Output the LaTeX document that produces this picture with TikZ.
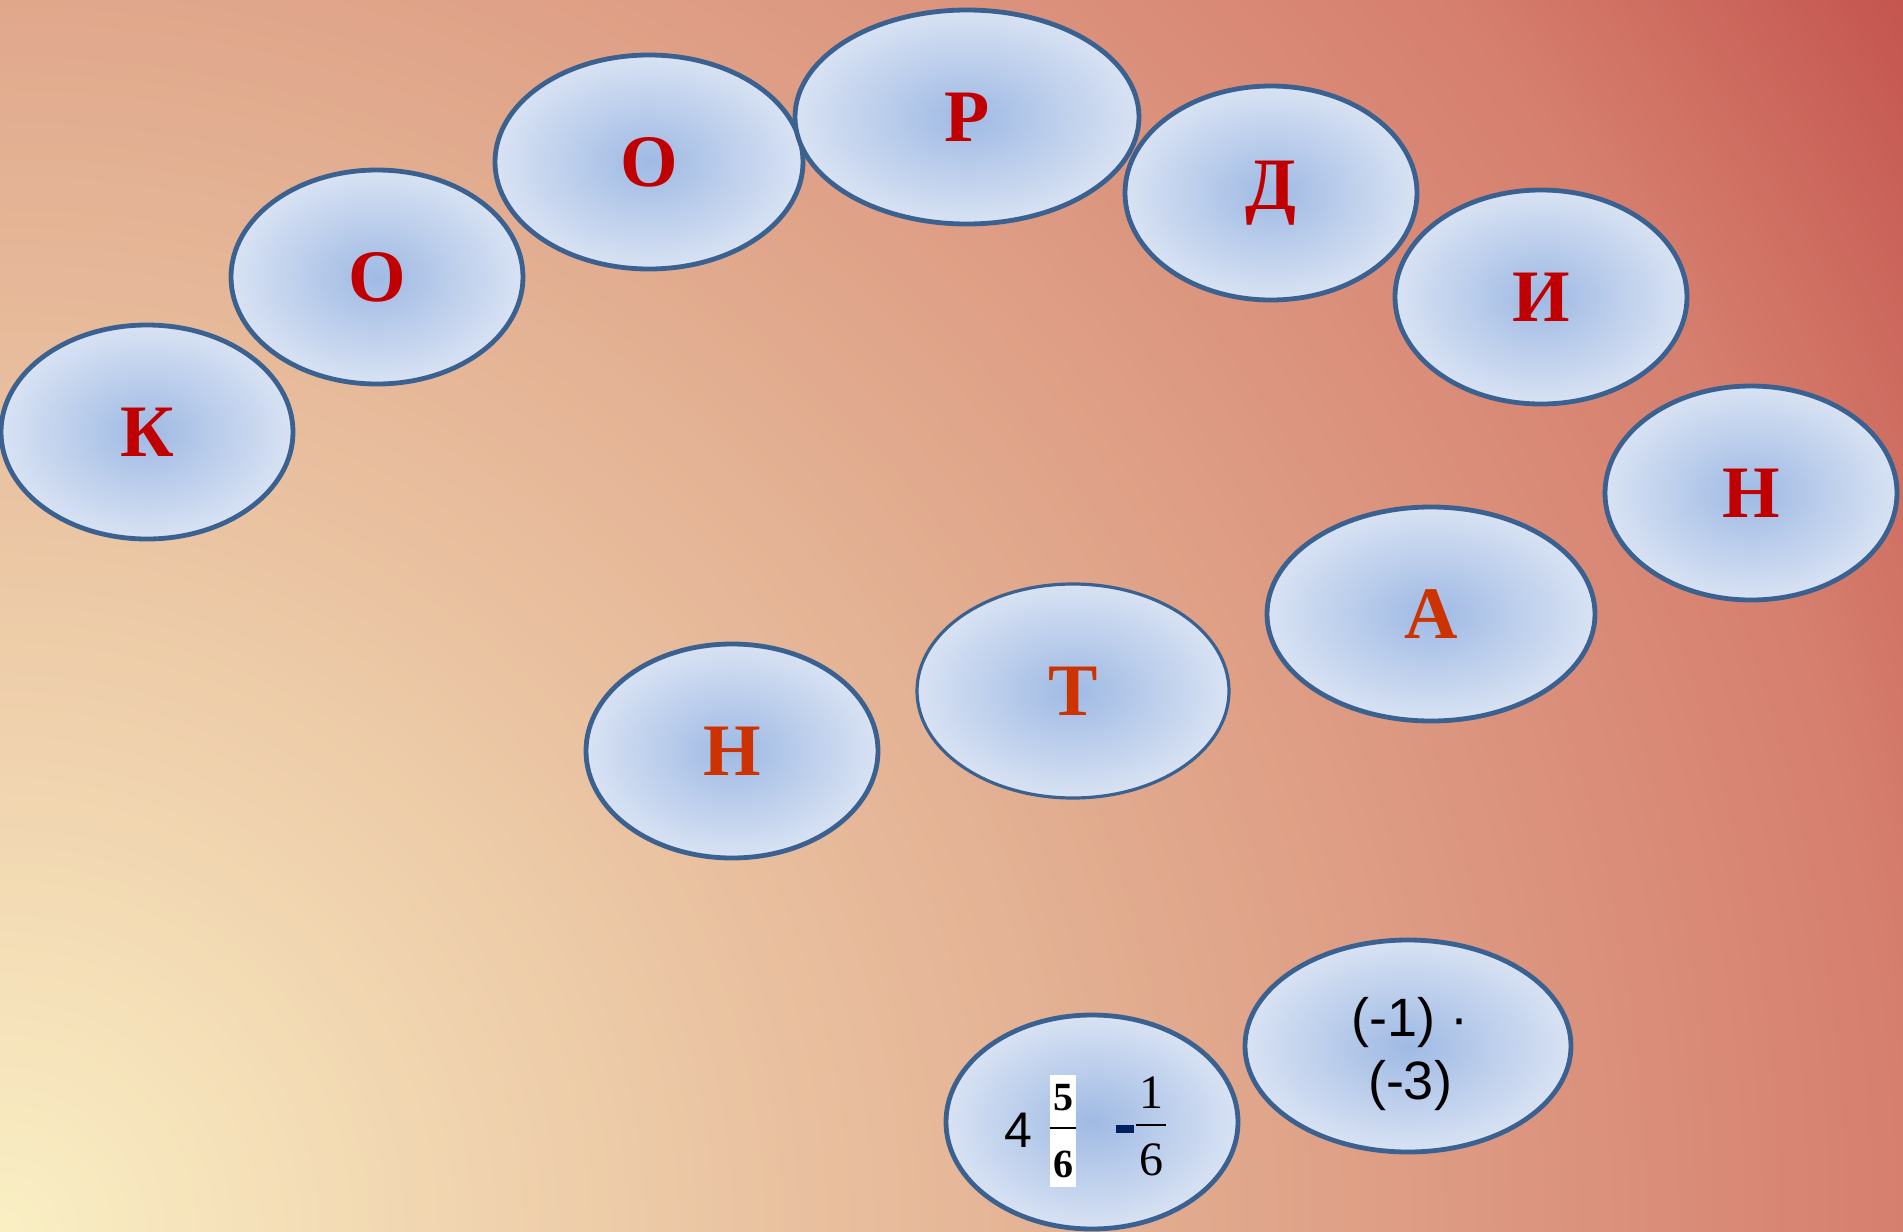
\documentclass[tikz,border=0pt]{standalone}
\usepackage{fontspec}
\setmainfont{Liberation Serif}
\newfontfamily\sansfont{Liberation Sans}
\usetikzlibrary{positioning, shapes.geometric}

\definecolor{bgcream}{HTML}{FAEFC4}
\definecolor{bgpeach}{HTML}{E2AD90}
\definecolor{bgrose}{HTML}{D67F6E}
\definecolor{bgred}{HTML}{C4554F}
\definecolor{ovalin}{HTML}{9FBAE4}
\definecolor{ovalout}{HTML}{D8E2F3}
\definecolor{ovalline}{HTML}{3B6190}
\definecolor{letterred}{HTML}{C00000}
\definecolor{letterorange}{HTML}{CC3300}
\definecolor{minusnavy}{HTML}{002060}

\pgfdeclareradialshading{bgglow}{\pgfpoint{0bp}{0bp}}{color(0bp)=(bgcream); color(12.5bp)=(bgpeach); color(21bp)=(bgrose); color(25bp)=(bgred); color(50bp)=(bgred)}

\tikzset{
  oval/.style={ellipse, draw=ovalline, line width=2.4pt, inner color=ovalin, outer color=ovalout, minimum height=107pt, inner sep=0pt},
  redletter/.style={text=letterred, font=\fontsize{37pt}{40pt}\selectfont\bfseries},
  orangeletter/.style={text=letterorange, font=\fontsize{37pt}{40pt}\selectfont\bfseries},
  numtxt/.style={font=\sansfont\fontsize{25pt}{30pt}\selectfont, inner sep=0pt, anchor=base},
  fracbold/.style={font=\fontsize{20pt}{24pt}\selectfont\bfseries, inner sep=0pt, anchor=base},
  fracreg/.style={font=\fontsize{24pt}{28pt}\selectfont, inner sep=0pt, anchor=base},
}

\begin{document}
\begin{tikzpicture}[x=0.5pt, y=-0.5pt]
	% 背景（左下角向外的径向渐变）
	\useasboundingbox (0,0) rectangle (1903,1232);
	\begin{scope}
		\clip (0,0) rectangle (1903,1232);
		\shade[shading=bgglow] (0,1232) circle (2267);
	\end{scope}
	
	% 上排字母（深红）
	\foreach \nm/\x/\y/\w/\ch in {k/147/432/146/К, o1/377/277/146/О, o2/649/162/154/О, r/967/117/172/Р, d/1271/193/146/Д, i/1541/297/146/И, n1/1751/493/146/Н}
		\node[oval, redletter, minimum width=\w*1pt] (\nm) at (\x,\y) {\ch};
	
	% 下排字母（橙红）
	\node[oval, orangeletter, minimum width=164pt] (a) at (1431,614) {А};
	\node[oval, orangeletter, minimum width=156pt, line width=1.6pt] (t) at (1073,691) {Т};
	\node[oval, orangeletter, minimum width=146pt] (n2) at (732,751) {Н};
	
	% 算式 (-1)·(-3)
	\node[oval, minimum width=163pt, minimum height=106pt] (ex1) at (1408,1046) {};
	\node[align=center, font=\sansfont\fontsize{27pt}{31.5pt}\selectfont] (ex1txt) at (1410,1054) {(-1) ·\\(-3)};
	
	% 算式 4 5/6 - 1/6
	\node[oval, minimum width=146pt] (ex2) at (1092,1122) {};
	\node[numtxt] (four) at (1018,1147) {4};
	\node[fill=white, minimum width=13pt, minimum height=56pt, inner sep=0pt] (wbox) at (1063,1131) {};
	\node[fracbold] (num5) at (1063,1110) {5};
	\node[fracbold] (den5) at (1063,1177) {6};
	\coordinate (bar5) at (1063,1128);
	\draw[line width=1.2pt] (wbox.west |- bar5) -- (wbox.east |- bar5);
	\node[fill=minusnavy, minimum width=9pt, minimum height=4pt, inner sep=0pt] (minus) at (1125,1129) {};
	\node[fracreg] (num1) at (1151,1108) {1};
	\node[fracreg] (den1) at (1151,1175) {6};
	\coordinate (bar1) at (1151,1125);
	\draw[line width=0.9pt] ([xshift=1pt]minus.east |- bar1) -- ++(30,0);
\end{tikzpicture}
\end{document}
